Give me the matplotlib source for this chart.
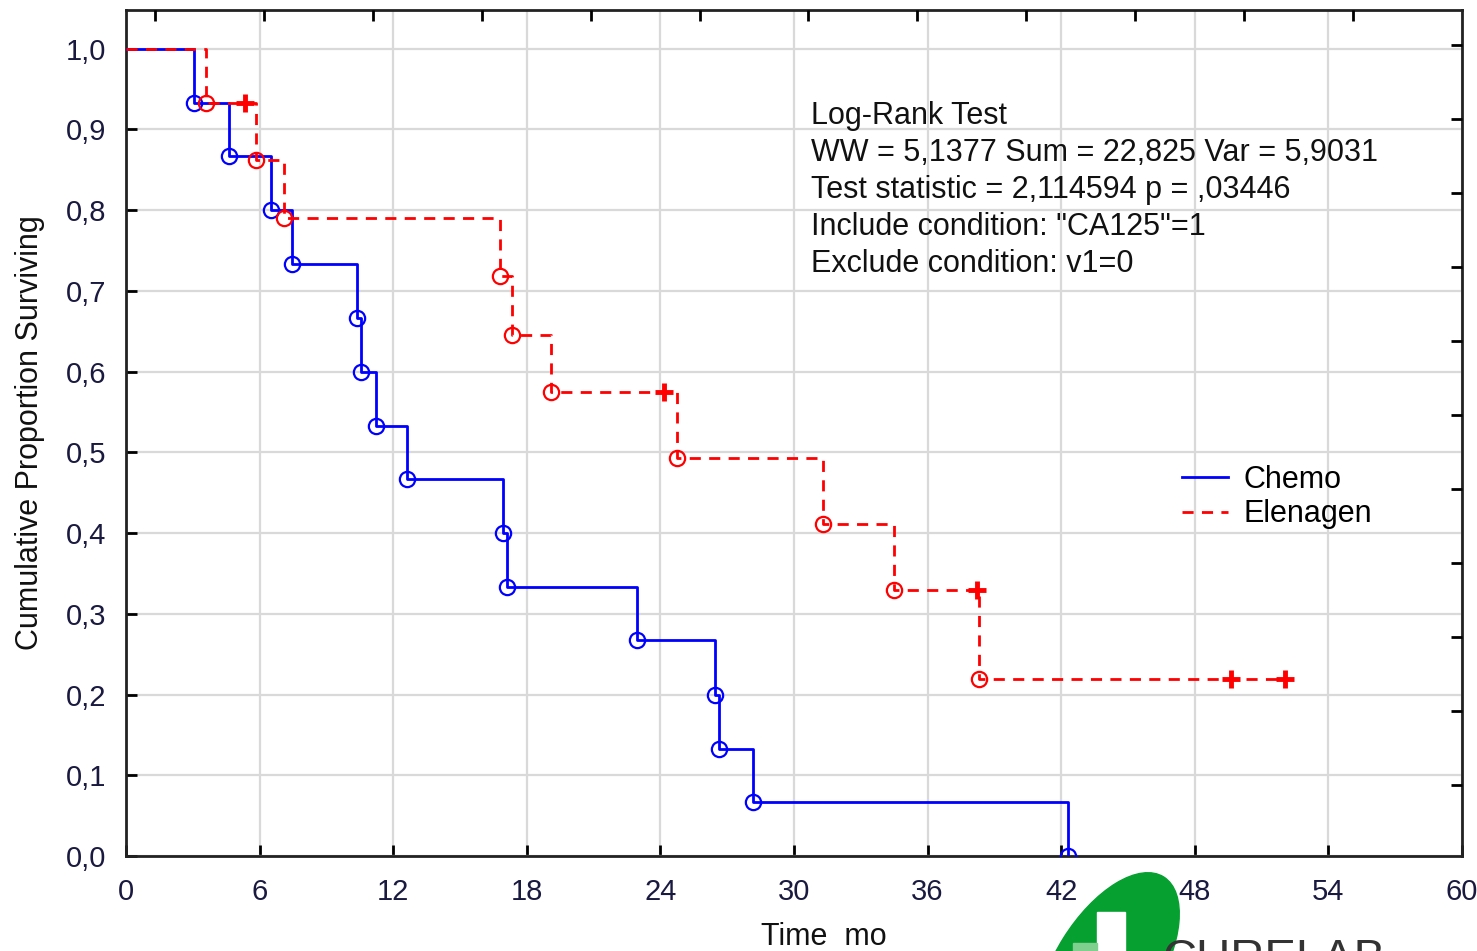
import matplotlib
matplotlib.use('Agg')
import matplotlib.pyplot as plt
from matplotlib.patches import Ellipse, Rectangle
from matplotlib.ticker import FuncFormatter
from matplotlib.lines import Line2D

plt.rcParams['font.family'] = ['Liberation Sans', 'DejaVu Sans']

# Chemo group: event times (months) and survival after each event
chemo_t = [3.05, 4.64, 6.50, 7.47, 10.39, 10.57, 11.23, 12.63,
           16.93, 17.09, 22.93, 26.45, 26.63, 28.16, 42.29]
chemo_s = [0.933, 0.867, 0.800, 0.733, 0.667, 0.600, 0.533, 0.467,
           0.400, 0.333, 0.267, 0.200, 0.133, 0.067, 0.0]

# Elenagen group: events and censored observations
elen_t = [3.59, 5.84, 7.09, 16.82, 17.35, 19.07, 24.75, 31.3, 34.5, 38.3]
elen_s = [0.933, 0.862, 0.790, 0.718, 0.646, 0.575, 0.493, 0.411, 0.329, 0.219]
elen_cens_t = [5.36, 24.16, 38.2, 49.64, 52.04]
elen_cens_s = [0.933, 0.575, 0.329, 0.219, 0.219]

xticks = [0, 6, 12, 18, 24, 30, 36, 42, 48, 54, 60]
yticks = [0.0, 0.1, 0.2, 0.3, 0.4, 0.5, 0.6, 0.7, 0.8, 0.9, 1.0]

stats_lines = [
    'Log-Rank Test',
    'WW = 5,1377 Sum = 22,825 Var = 5,9031',
    'Test statistic = 2,114594 p = ,03446',
    'Include condition: "CA125"=1',
    'Exclude condition: v1=0',
]

fig = plt.figure(figsize=(14.77, 9.51), dpi=100)
ax = fig.add_axes([0.0853, 0.0999, 0.9045, 0.8896])

blue = '#0000ff'
red = '#ff0000'

# step curves
cx = [0] + chemo_t
cy = [1.0] + chemo_s
ax.step(cx, cy, where='post', color=blue, lw=2, zorder=3)
ax.plot(chemo_t, chemo_s, 'o', ms=11, mfc='none', mec=blue, mew=1.6, zorder=4)

ex = [0] + elen_t + [elen_cens_t[-1]]
ey = [1.0] + elen_s + [elen_s[-1]]
ax.step(ex, ey, where='post', color=red, lw=2, ls=(0, (4, 3)), zorder=5)
ax.plot(elen_t, elen_s, 'o', ms=11, mfc='none', mec=red, mew=1.6, zorder=6)
ax.plot(elen_cens_t, elen_cens_s, '+', ms=13, mec=red, mew=3.5, zorder=6)

ax.set_xlim(0, 60)
ax.set_ylim(0, 1.048)
ax.set_xticks(xticks)
ax.set_yticks(yticks)
ax.yaxis.set_major_formatter(FuncFormatter(lambda v, p: f'{v:.1f}'.replace('.', ',')))
ax.grid(True, color='#d9d9d9', lw=1.6)
ax.set_axisbelow(True)
ax.tick_params(direction='in', length=8, width=2, labelsize=21,
               top=False, right=False, labelcolor='#1a1a40')
ax.tick_params(axis='x', pad=16)
ax.tick_params(axis='y', pad=14)
for sp in ax.spines.values():
    sp.set_linewidth(2)
    sp.set_color('#222222')

ax.set_xlabel('Time  mo', fontsize=22, color='#111111')
ax.xaxis.set_label_coords(0.5225, -0.0957)
ax.xaxis.label.set_va('center')
ax.set_ylabel('Cumulative Proportion Surviving', fontsize=22, color='#111111')
ax.yaxis.set_label_coords(-0.0717, 0.5)
ax.yaxis.label.set_va('center')

# top / right ticks (independent positions as in original)
top = ax.twiny()
top.set_xlim(0, 60)
top.set_xticks([1.3 + k * 4.892 for k in range(12)])
top.tick_params(direction='in', length=8, width=2, labeltop=False)
right = ax.twinx()
right.set_ylim(0, 1.048)
right.set_yticks([1.005 - k * 0.0917 for k in range(11)])
right.tick_params(direction='in', length=8, width=2, labelright=False)
for a in (top, right):
    for sp in a.spines.values():
        sp.set_visible(False)

ax.text(0.513, 0.8925, '\n'.join(stats_lines), transform=ax.transAxes,
        fontsize=22, va='top', ha='left', linespacing=1.31, color='#111111', zorder=7)

handles = [Line2D([], [], color=blue, lw=2),
           Line2D([], [], color=red, lw=2, ls=(0, (4, 3)))]
ax.legend(handles, ['Chemo', 'Elenagen'], loc='upper left',
          bbox_to_anchor=(0.770, 0.495), frameon=False, fontsize=22,
          handlelength=1.5, handletextpad=0.5, labelspacing=0.15)

# partial logo at bottom edge
fig.add_artist(Ellipse((11.08, -0.15), 1.05, 2.1, angle=-32,
                       transform=fig.dpi_scale_trans, color='#05a030', zorder=10))
fig.add_artist(Rectangle((10.97, 0.0), 0.28, 0.39,
                         transform=fig.dpi_scale_trans, color='white', zorder=11))
fig.add_artist(Rectangle((10.73, 0.0), 0.24, 0.08,
                         transform=fig.dpi_scale_trans, color='#7fcf8f', zorder=11))
fig.text(11.63, 0.13, 'CURELAB', transform=fig.dpi_scale_trans,
         fontsize=34, va='top', ha='left', color='#333333', zorder=12)

fig.savefig('out.png', dpi=100)
